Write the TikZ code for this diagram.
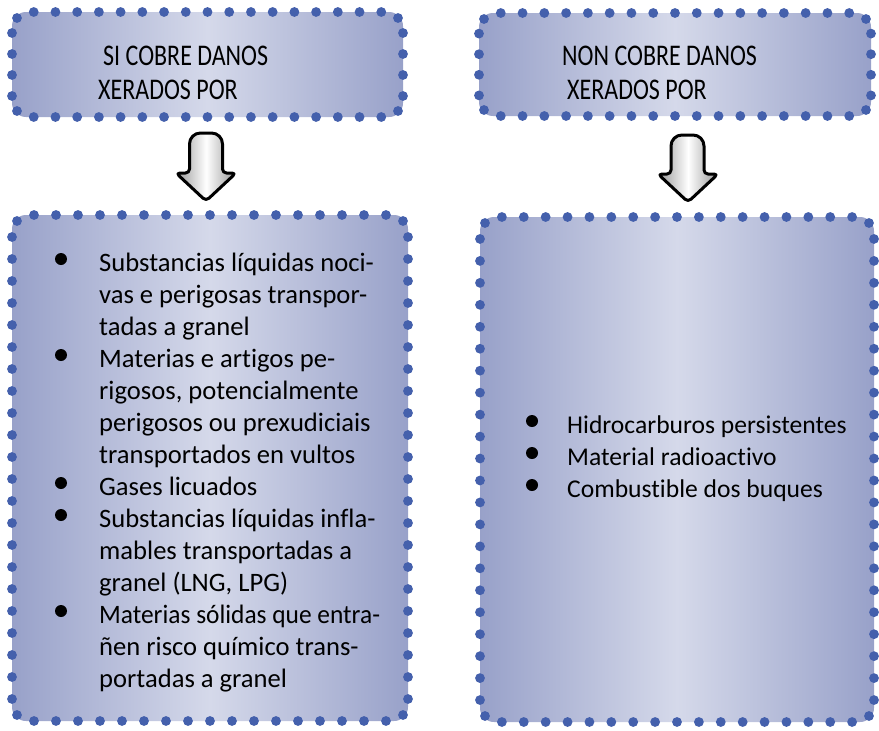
\documentclass[tikz,border=0pt]{standalone}
\usepackage{fontspec}
\setmainfont{Carlito}[Ligatures=CommonOff]
\newfontfamily\headfont[FakeStretch=0.8,Ligatures=CommonOff]{Carlito}
\definecolor{dotcol}{RGB}{68,96,172}
\definecolor{edgecol}{RGB}{152,161,201}
\definecolor{midcol}{RGB}{213,217,234}
\definecolor{arrgray}{RGB}{150,150,150}
\tikzset{
  panelfill/.style={rounded corners=14pt, left color=edgecol, right color=edgecol,
    middle color=midcol},
  bdot/.style={fill=dotcol},
  headtxt/.style={anchor=base west, inner sep=0pt, font=\headfont\fontsize{30}{34}\selectfont},
  bodytxt/.style={anchor=base west, inner sep=0pt, font=\fontsize{26.6}{32}\selectfont},
  rbodytxt/.style={anchor=base west, inner sep=0pt, font=\fontsize{25.6}{32}\selectfont},
  bul/.style={circle, fill=black, inner sep=0pt, minimum size=12pt},
  blockarrow/.style={draw=black, line width=3pt, line join=round,
    left color=arrgray, right color=arrgray, middle color=white}
}
\newcommand{\dotbox}[4]{%
  \pgfmathtruncatemacro\dbNx{round((#3-#1)/21.7)}%
  \pgfmathtruncatemacro\dbNy{round((#4-#2)/21.7)}%
  \pgfmathsetmacro\dbDx{(#3-#1)/\dbNx}%
  \pgfmathsetmacro\dbDy{(#4-#2)/\dbNy}%
  \pgfmathtruncatemacro\dbNxm{\dbNx-1}%
  \pgfmathtruncatemacro\dbNym{\dbNy-1}%
  \foreach \k in {1,...,\dbNxm} {
    \fill[bdot] (#1+\k*\dbDx,#2) circle (4.9pt);
    \fill[bdot] (#1+\k*\dbDx,#4) circle (4.9pt);
  }
  \foreach \k in {1,...,\dbNym} {
    \fill[bdot] (#1,#2+\k*\dbDy) circle (4.9pt);
    \fill[bdot] (#3,#2+\k*\dbDy) circle (4.9pt);
  }
  \fill[bdot] (#1+5,#2+6) circle (4.9pt);
  \fill[bdot] (#3-5,#2+6) circle (4.9pt);
  \fill[bdot] (#1+5,#4-6) circle (4.9pt);
  \fill[bdot] (#3-5,#4-6) circle (4.9pt);
}
\begin{document}
\begin{tikzpicture}[x=1pt,y=-1pt]
\useasboundingbox (0,0) rectangle (879,731);

% boxes
\path[panelfill] (12,12) rectangle (403,117);
\dotbox{12}{12}{403}{117}
\node[inner sep=0pt, minimum width=391pt, minimum height=105pt] (tl) at (207.5,64.5) {};
\path[panelfill] (479,13) rectangle (871,116);
\dotbox{479}{13}{871}{116}
\node[inner sep=0pt, minimum width=392pt, minimum height=103pt] (tr) at (675,64.5) {};
\path[panelfill] (12,215) rectangle (408,721);
\dotbox{12}{215}{408}{721}
\node[inner sep=0pt, minimum width=396pt, minimum height=506pt] (bl) at (210,468) {};
\path[panelfill] (480,217) rectangle (874,722);
\dotbox{480}{217}{874}{722}
\node[inner sep=0pt, minimum width=394pt, minimum height=505pt] (br) at (677,469.5) {};

% header texts
\node[headtxt] (h1a) at (103,65) {SI COBRE DANOS};
\node[headtxt] (h1b) at (98,99) {XERADOS POR};
\node[headtxt] (h2a) at (562,65) {NON COBRE DANOS};
\node[headtxt] (h2b) at (567,99) {XERADOS POR};

% arrows
\path[blockarrow, rounded corners=4pt] (189.5,173) [rounded corners=11pt] -- (189.5,133) -- (222.5,133)
   [rounded corners=4pt] -- (222.5,173) -- (236,173) -- (206,201) -- (176,173) -- cycle;
\path[blockarrow, rounded corners=4pt] (671,174) [rounded corners=11pt] -- (671,135) -- (704,135)
   [rounded corners=4pt] -- (704,174) -- (718,174) -- (688,202) -- (658,174) -- cycle;

% left list
\foreach \t [count=\i from 0] in {
  Substancias líquidas noci-,
  vas e perigosas transpor-,
  tadas a granel,
  Materias e artigos pe-,
  {rigosos, potencialmente},
  perigosos ou prexudiciais,
  transportados en vultos,
  Gases licuados,
  Substancias líquidas infla-,
  mables transportadas a,
  {granel (LNG, LPG)},
  {\scalebox{0.955}[1]{Materias sólidas que entra-}},
  ñen risco químico trans-,
  portadas a granel}
  \node[bodytxt] (l\i) at (99,271+32*\i) {\t};
\foreach \i in {0,3,7,8,11}
  \node[bul] (lb\i) at (61,259+32*\i) {};

% right list
\node[rbodytxt] (r0) at (567,433) {Hidrocarburos persistentes};
\node[rbodytxt] (r1) at (567,465) {Material radioactivo};
\node[rbodytxt] (r2) at (567,497) {Combustible dos buques};
\foreach \i in {0,1,2}
  \node[bul] (rb\i) at (532,421+32*\i) {};
\end{tikzpicture}
\end{document}
